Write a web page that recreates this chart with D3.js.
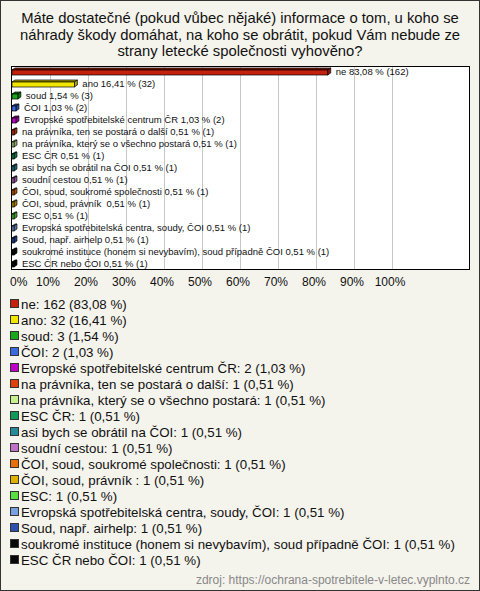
<!DOCTYPE html>
<html><head><meta charset="utf-8">
<script src="https://cdn.jsdelivr.net/npm/d3@7"></script>
<style>
html,body{margin:0;padding:0;background:#f4f3ec;}
svg{display:block;font-family:"Liberation Sans",Arial,sans-serif;}
</style></head><body>
<svg id="c" width="480" height="591"></svg>
<script>
const titleLines = ["Máte dostatečné (pokud vůbec nějaké) informace o tom, u koho se",
  "náhrady škody domáhat, na koho se obrátit, pokud Vám nebude ze",
  "strany letecké společnosti vyhověno?"];
const categories = ["ne","ano","soud","ČOI","Evropské spotřebitelské centrum ČR",
  "na právníka, ten se postará o další","na právníka, který se o všechno postará",
  "ESC ČR","asi bych se obrátil na ČOI","soudní cestou","ČOI, soud, soukromé společnosti",
  "ČOI, soud, právník ","ESC","Evropská spotřebitelská centra, soudy, ČOI","Soud, např. airhelp",
  "soukromé instituce (honem si nevybavím), soud případně ČOI","ESC ČR nebo ČOI"];
const counts = [162,32,3,2,2,1,1,1,1,1,1,1,1,1,1,1,1];
const percents = [83.08,16.41,1.54,1.03,1.03,0.51,0.51,0.51,0.51,0.51,0.51,0.51,0.51,0.51,0.51,0.51,0.51];
const colors = ["#c4200c","#f2e600","#18a818","#3a6ae0","#c000c8","#e0400c","#c8f090","#109a5a",
  "#288a98","#c070c8","#e8700c","#e0b000","#58e040","#78a0e0","#2c50b0","#080808","#080808"];
const ticks = [0,10,20,30,40,50,60,70,80,90,100];
const source = "zdroj: https://ochrana-spotrebitele-v-letec.vyplnto.cz";

const svg = d3.select("#c");
svg.append("rect").attr("x",0.5).attr("y",0.5).attr("width",479).attr("height",590)
  .attr("fill","#f4f3ec").attr("stroke","#333");

svg.append("g").selectAll("text").data(titleLines).join("text")
  .attr("x",240).attr("y",(d,i)=>23+i*16.5).attr("text-anchor","middle")
  .attr("font-size",14.8).attr("fill","#111").text(d=>d);

const L=11, T=66, R=470, B=270;
const x = d3.scaleLinear().domain([0,100]).range([12,392]);
const y = d3.scaleBand().domain(categories).range([T,B]);

svg.append("rect").attr("x",L+0.5).attr("y",T+0.5).attr("width",R-L-1).attr("height",B-T-1)
  .attr("fill","#fff").attr("stroke","#000");
svg.append("g").selectAll("line").data(ticks.slice(1)).join("line")
  .attr("x1",d=>Math.round(x(d))+0.5).attr("x2",d=>Math.round(x(d))+0.5)
  .attr("y1",T+1).attr("y2",B-1).attr("stroke","#c8c8c8");

const dep=3;
const bars = svg.append("g").selectAll("g").data(categories).join("g");
bars.each(function(c,i){
  const g=d3.select(this);
  const cy=y(c)+y.bandwidth()/2;
  const x0=x(0), x1=x(percents[i]);
  const col=d3.color(colors[i]);
  const dark=col.darker(0.9).formatHex();
  g.append("polygon").attr("points",[[x0,cy-2],[x0+dep,cy-1-dep],[x1+dep,cy-1-dep],[x1,cy-2]].join(" "))
    .attr("fill",dark).attr("stroke","#000").attr("stroke-width",0.7);
  g.append("polygon").attr("points",[[x1,cy-2],[x1+dep,cy-1-dep],[x1+dep,cy+4-dep],[x1,cy+3]].join(" "))
    .attr("fill",dark).attr("stroke","#000").attr("stroke-width",0.7);
  g.append("rect").attr("x",x0).attr("y",cy-2).attr("width",x1-x0).attr("height",5)
    .attr("fill",colors[i]).attr("stroke","#000").attr("stroke-width",0.7);
  g.append("text").attr("x",x1+8).attr("y",cy+3).attr("font-size",9.5).attr("fill","#111")
    .style("white-space","pre")
    .text(c+" "+percents[i].toFixed(2).replace(".",",")+" % ("+counts[i]+")");
});

svg.append("g").selectAll("text").data(ticks).join("text")
  .attr("x",d=>d===0?10:x(d)-2).attr("y",B+16)
  .attr("text-anchor",d=>d===0?"start":"middle").attr("font-size",12).attr("fill","#111")
  .text(d=>d+"%");

const leg = svg.append("g").selectAll("g").data(categories).join("g")
  .attr("transform",(d,i)=>`translate(0,${304+i*16})`);
leg.append("rect").attr("x",10.5).attr("y",-4.5).attr("width",8).attr("height",8)
  .attr("fill",(d,i)=>colors[i]).attr("stroke","#333");
leg.append("text").attr("x",21).attr("y",5).attr("font-size",13.3).attr("fill","#111")
  .style("white-space","pre")
  .text((d,i)=>d+": "+counts[i]+" ("+percents[i].toFixed(2).replace(".",",")+" %)");

svg.append("text").attr("x",470).attr("y",584).attr("text-anchor","end")
  .attr("font-size",12).attr("fill","#888").text(source);
</script></body></html>
